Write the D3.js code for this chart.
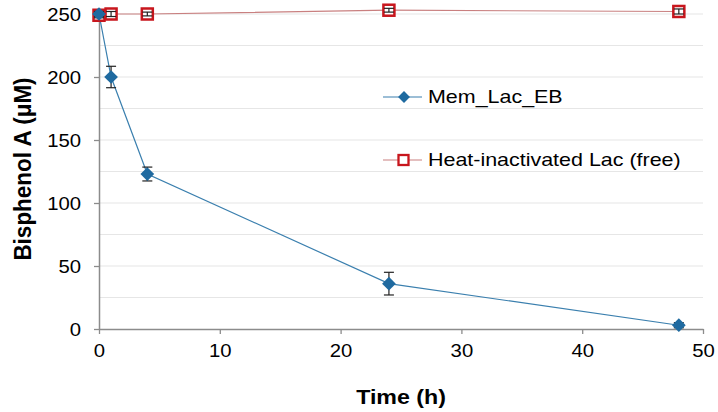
<!DOCTYPE html>
<html><head><meta charset="utf-8">
<script src="https://cdn.jsdelivr.net/npm/d3@7"></script>
<style>body{margin:0;background:#fff}svg{display:block}text{font-family:"Liberation Sans",Arial,sans-serif}</style>
</head><body><svg id="c" width="718" height="412"></svg>
<script>
const timeH = [0, 1, 4, 24, 48];
const memLacEB = [250, 200, 123, 36, 3];
const memLacEBErr = [2, 8.5, 5.5, 9, 2];
const heatLac = [249, 250, 250, 253, 252];
const heatLacErr = [2, 2, 1.5, 1.5, 2];
const xTicks = [0, 10, 20, 30, 40, 50];
const yTicks = [0, 50, 100, 150, 200, 250];
const yGrid = d3.range(0, 251, 25);
const seriesNames = ["Mem_Lac_EB", "Heat-inactivated Lac (free)"];

const SX = 1.16; // horizontal text stretch seen in the reference
const svg = d3.select("#c");
const x = d3.scaleLinear().domain([0, 50]).range([99, 703]);
const y = d3.scaleLinear().domain([0, 250]).range([329, 14]);

svg.append("g").selectAll("line").data(yGrid.filter(d => d > 0)).join("line")
  .attr("x1", x(0)).attr("x2", x(50)).attr("y1", d => y(d)).attr("y2", d => y(d))
  .attr("stroke", "#e6e6e6").attr("stroke-width", 1.2);

const xa = svg.append("g").attr("transform", `translate(0,${y(0)})`)
  .call(d3.axisBottom(x).tickValues(xTicks).tickSize(5).tickSizeOuter(0).tickPadding(11));
const ya = svg.append("g").attr("transform", `translate(${x(0)},0)`)
  .call(d3.axisLeft(y).tickValues(yTicks).tickSize(5).tickSizeOuter(0).tickPadding(13));
[xa, ya].forEach(a => {
  a.select(".domain").attr("stroke", "#8c8c8c").attr("stroke-width", 1.5);
  a.selectAll(".tick line").attr("stroke", "#8c8c8c").attr("stroke-width", 1.3);
  a.selectAll("text").attr("font-size", 17.5).attr("fill", "#000")
    .attr("font-family", '"Liberation Sans",Arial,sans-serif')
    .attr("transform", `scale(${SX},1)`);
});
ya.selectAll("text").attr("dy", "0.35em").attr("x", -18 / SX);

svg.append("text").attr("transform", `translate(${x(25)},404) scale(${SX},1)`).attr("text-anchor", "middle")
  .attr("font-size", 20).attr("font-weight", "bold").text("Time (h)");
svg.append("text").attr("transform", `translate(31,169) scale(1.06,1) rotate(-90)`)
  .attr("text-anchor", "middle").attr("font-size", 22.5).attr("font-weight", "bold").text("Bisphenol A (μM)");

const blue = "#1f6aa0", blueLine = "#3a7fae";
const red = "#c8161d", redLine = "#c98080";

const line = d3.line().x((d, i) => x(timeH[i])).y(d => y(d));

svg.append("path").datum(heatLac).attr("d", line).attr("fill", "none")
  .attr("stroke", redLine).attr("stroke-width", 1.2);
svg.append("path").datum(memLacEB).attr("d", line).attr("fill", "none")
  .attr("stroke", blueLine).attr("stroke-width", 1.2);

function errBars(vals, errs, col) {
  const g = svg.append("g").attr("stroke", col).attr("stroke-width", 1.2);
  vals.forEach((v, i) => {
    const cx = x(timeH[i]);
    g.append("line").attr("x1", cx).attr("x2", cx).attr("y1", y(v - errs[i])).attr("y2", y(v + errs[i]));
    [v - errs[i], v + errs[i]].forEach(e => g.append("line")
      .attr("x1", cx - 5).attr("x2", cx + 5).attr("y1", y(e)).attr("y2", y(e)));
  });
}

svg.append("g").selectAll("rect").data(heatLac).join("rect")
  .attr("x", (d, i) => x(timeH[i]) - 5.5).attr("y", d => y(d) - 5.5)
  .attr("width", 11).attr("height", 11).attr("fill", "#fff")
  .attr("stroke", red).attr("stroke-width", 2.5);
errBars(heatLac, heatLacErr, "#222");

errBars(memLacEB, memLacEBErr, "#222");
const diamond = d3.symbol().type(d3.symbolDiamond2).size(120);
svg.append("g").selectAll("path").data(memLacEB).join("path")
  .attr("d", diamond).attr("transform", (d, i) => `translate(${x(timeH[i])},${y(d)})`)
  .attr("fill", blue);

const lg = svg.append("g");
const legY = [97, 160];
lg.append("line").attr("x1", 383).attr("x2", 422).attr("y1", legY[0]).attr("y2", legY[0])
  .attr("stroke", blueLine).attr("stroke-width", 1.2);
lg.append("path").attr("d", d3.symbol().type(d3.symbolDiamond2).size(90)).attr("transform", `translate(404,${legY[0]})`).attr("fill", blue);
lg.append("line").attr("x1", 383).attr("x2", 422).attr("y1", legY[1]).attr("y2", legY[1])
  .attr("stroke", redLine).attr("stroke-width", 1.2);
lg.append("rect").attr("x", 398.5).attr("y", legY[1] - 5).attr("width", 10).attr("height", 10)
  .attr("fill", "#fff").attr("stroke", red).attr("stroke-width", 2.3);
lg.selectAll("text").data(seriesNames).join("text")
  .attr("transform", (d, i) => `translate(428,${legY[i]}) scale(${SX},1)`).attr("dy", "0.35em")
  .attr("font-size", 18.5).text(d => d);
</script></body></html>
